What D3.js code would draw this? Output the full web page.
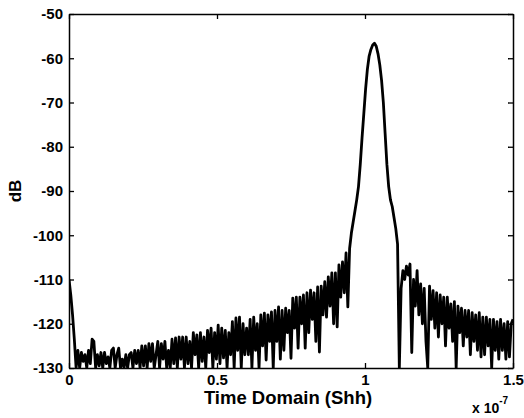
<!DOCTYPE html>
<html>
<head>
<meta charset="utf-8">
<script src="https://cdn.jsdelivr.net/npm/d3@7"></script>
<style>
  body { margin: 0; background: #fff; }
  text { font-family: "Liberation Sans", Arial, sans-serif; font-weight: bold; fill: #000; }
</style>
</head>
<body>
<svg id="Viz"></svg>
<script>
var width = 524,
    height = 418;

// sampled signal: one value every dt (units of 1e-7 s)
var dt = 0.006;
var dbVals = [
  // 0 - 39
  -110, -113.5, -118, -123.5, -130, -126, -130, -126.5, -128.5, -127,
  -130, -126, -129, -123.5, -124, -130, -127, -129.5, -126.5, -130,
  -126.5, -129, -127.5, -130, -126, -125.5, -130, -127, -125.5, -130,
  -128, -130, -127, -130, -127, -126.5, -130, -126, -129, -126,
  // 40 - 79
  -130, -125, -129.5, -125, -130, -124.5, -128.5, -124.5, -130, -127,
  -124, -130, -124.5, -128, -124, -130, -126, -130, -123.5, -129,
  -123.2, -130, -123, -128, -123, -130, -123, -129, -124, -130,
  -122, -127, -122.5, -130, -122, -128.5, -123, -130, -121.5, -126.5,
  // 80 - 119
  -121, -130, -122, -128, -120.3, -129, -121, -127.7, -121.5, -130,
  -122, -127, -119.5, -130, -118.7, -126, -118.5, -130, -120, -127,
  -121, -127, -119, -130, -118.5, -126, -120, -130, -118, -125,
  -117.6, -128.2, -118, -124, -117.3, -130, -117, -124, -116.2, -128,
  // 120 - 157
  -117, -126, -116.5, -122, -117, -127.8, -114.2, -121, -114, -125.5,
  -114, -120, -113.5, -125.5, -113, -122, -112.4, -119, -113, -124,
  -111.7, -126.4, -111.5, -118, -110.5, -118.5, -109.4, -116, -108.5, -120,
  -108.5, -120.7, -106.7, -114, -106, -113, -104, -116.2,
  // 158 - 186 main lobe
  -103, -99.5, -97, -94.5, -92, -89, -84, -78, -72.5, -67,
  -62.5, -59.5, -58, -57, -56.6, -57.3, -59, -61.5, -65, -70,
  -77, -84, -89, -92, -93.5, -96, -98.5, -102, -130,
  // 187 - 250
  -112, -108, -110, -107, -109, -106.5, -126.5, -110, -116, -108,
  -118, -111, -120, -112, -124, -130, -111.5, -119, -112.5, -121,
  -113, -123, -113.5, -120, -114, -125, -114, -121, -115.5, -124,
  -115, -130, -116, -122, -116.5, -125, -117, -123, -117, -127,
  -117.5, -124, -118, -126, -117.5, -127.5, -118.5, -127, -118.5, -125,
  -119, -130, -119, -126, -119.5, -128, -119, -126, -120, -128,
  -119.5, -127.5, -120, -119
];

var xTicks = [0, 0.5, 1, 1.5];
var xTickLabels = ["0", "0.5", "1", "1.5"];
var yTicks = [-130, -120, -110, -100, -90, -80, -70, -60, -50];
var yTickLabels = ["-130", "-120", "-110", "-100", "-90", "-80", "-70", "-60", "-50"];

var margin = {top: 14, right: 11, bottom: 50, left: 69};

var svg = d3.select("#Viz").attr("width", width).attr("height", height);

var x = d3.scaleLinear().domain([0, 1.5]).range([margin.left, width - margin.right]);
var y = d3.scaleLinear().domain([-130, -50]).range([height - margin.bottom, margin.top]);

var pts = dbVals.map(function(v, i) { return [i * dt, v]; });

// clip so the curve stays in the box
svg.append("clipPath").attr("id", "clip")
  .append("rect")
  .attr("x", x(0)).attr("y", y(-50))
  .attr("width", x(1.5) - x(0)).attr("height", y(-130) - y(-50));

svg.append("path")
  .datum(pts)
  .attr("clip-path", "url(#clip)")
  .attr("fill", "none")
  .attr("stroke", "#000")
  .attr("stroke-width", 2.8)
  .attr("stroke-linejoin", "round")
  .attr("d", d3.line().x(function(d) { return x(d[0]); }).y(function(d) { return y(d[1]); }));

// axes: ticks point inward, box on all four sides
svg.append("g").attr("transform", "translate(0," + y(-130) + ")")
  .call(d3.axisBottom(x).tickValues(xTicks).tickSizeInner(-5).tickSizeOuter(0).tickPadding(6)
    .tickFormat(function(d, i) { return xTickLabels[i]; }));
svg.append("g").attr("transform", "translate(0," + y(-50) + ")")
  .call(d3.axisTop(x).tickValues(xTicks).tickSizeInner(-5).tickSizeOuter(0).tickFormat(""));
svg.append("g").attr("transform", "translate(" + x(0) + ",0)")
  .call(d3.axisLeft(y).tickValues(yTicks).tickSizeInner(-5).tickSizeOuter(0).tickPadding(6)
    .tickFormat(function(d, i) { return yTickLabels[i]; }));
svg.append("g").attr("transform", "translate(" + x(1.5) + ",0)")
  .call(d3.axisRight(y).tickValues(yTicks).tickSizeInner(-5).tickSizeOuter(0).tickFormat(""));

svg.selectAll(".domain").attr("stroke", "#000").attr("stroke-width", 1.5);
svg.selectAll(".tick line").attr("stroke", "#000").attr("stroke-width", 1.3);
svg.selectAll(".tick text")
  .style("font-family", "'Liberation Sans', Arial, sans-serif")
  .style("font-weight", "bold")
  .style("font-size", "15px")
  .attr("fill", "#000");

// labels
svg.append("text")
  .attr("x", 288)
  .attr("y", 404)
  .attr("text-anchor", "middle")
  .style("font-size", "18.5px")
  .text("Time Domain (Shh)");

svg.append("text")
  .attr("transform", "translate(21," + (y(-90)) + ") rotate(-90)")
  .attr("text-anchor", "middle")
  .style("font-size", "17px")
  .text("dB");

var sci = svg.append("text").attr("x", 472).attr("y", 413).style("font-size", "14px");
sci.append("tspan").text("x 10");
sci.append("tspan").attr("dy", -9).style("font-size", "10px").text("-7");
</script>
</body>
</html>
